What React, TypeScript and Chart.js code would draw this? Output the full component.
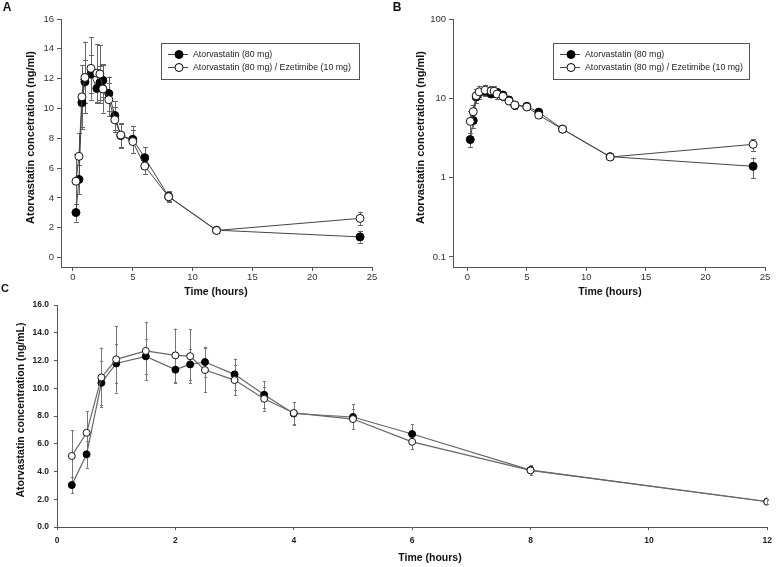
import React, { useEffect, useRef } from "react";
import { Chart, registerables } from "chart.js";
Chart.register(...registerables);

const FONT = '"Liberation Sans", Arial, Helvetica, sans-serif';

// ---- data ----
const TIMES = [0.25, 0.5, 0.75, 1, 1.5, 2, 2.25, 2.5, 3, 3.5, 4, 5, 6, 8, 12, 24];
const ATOR_MEAN = [3.02, 5.24, 10.39, 11.79, 12.3, 11.34, 11.72, 11.89, 11.0, 9.53, 8.18, 7.93, 6.7, 4.1, 1.84, 1.39];
const ATOR_SD = [0.6, 0.97, 1.6, 1.43, 1.28, 0.96, 1.14, 1.09, 1.14, 0.96, 0.8, 0.9, 0.72, 0.35, 0.18, 0.4];
const COMBO_MEAN = [5.12, 6.79, 10.78, 12.08, 12.69, 12.37, 12.31, 11.31, 10.59, 9.24, 8.22, 7.78, 6.14, 4.08, 1.82, 2.63];
const COMBO_SD = [1.84, 1.57, 2.15, 2.4, 2.1, 1.93, 1.93, 1.59, 1.11, 0.85, 0.8, 0.75, 0.53, 0.3, 0.15, 0.45];
const LEGEND_LABELS = ["Atorvastatin (80 mg)", "Atorvastatin (80 mg) / Ezetimibe (10 mg)"];

const A_X_TICKS = [0, 5, 10, 15, 20, 25];
const A_Y_TICKS = [0, 2, 4, 6, 8, 10, 12, 14, 16];
const B_X_TICKS = [0, 5, 10, 15, 20, 25];
const B_Y_TICKS = [0.1, 1, 10, 100];
const C_X_TICKS = [0, 2, 4, 6, 8, 10, 12];
const C_Y_TICKS = [0, 2, 4, 6, 8, 10, 12, 14, 16];

const TITLE_X = "Time (hours)";
const TITLE_Y_AB = "Atorvastatin concetration (ng/ml)";
const TITLE_Y_C = "Atorvastatin concentration (ng/mL)";

// ---- helpers ----
const points = (means: number[], maxT: number) =>
  TIMES.map((t, i) => ({ x: t, y: means[i] })).filter((p) => p.x <= maxT);
const errs = (sd: number[], maxT: number) => TIMES.map((t, i) => ({ t, e: sd[i] })).filter((p) => p.t <= maxT).map((p) => p.e);

function makeDatasets(maxT: number, lineColor: string, lineWidth: number, radius: number) {
  return [
    {
      label: LEGEND_LABELS[1],
      data: points(COMBO_MEAN, maxT),
      errors: errs(COMBO_SD, maxT),
      borderColor: lineColor,
      borderWidth: lineWidth,
      pointRadius: radius,
      pointBackgroundColor: "#ffffff",
      pointBorderColor: "#111111",
      pointBorderWidth: 1,
      tension: 0,
      fill: false,
    },
    {
      label: LEGEND_LABELS[0],
      data: points(ATOR_MEAN, maxT),
      errors: errs(ATOR_SD, maxT),
      borderColor: lineColor,
      borderWidth: lineWidth,
      pointRadius: radius,
      pointBackgroundColor: "#000000",
      pointBorderColor: "#000000",
      pointBorderWidth: 1,
      tension: 0,
      fill: false,
    },
  ];
}

function errorBarPlugin(color: string, cap: number) {
  return {
    id: "errorBars",
    beforeDatasetsDraw(chart: any) {
      const { ctx, chartArea } = chart;
      const xs = chart.scales.x;
      const ys = chart.scales.y;
      ctx.save();
      ctx.beginPath();
      ctx.rect(chartArea.left - 8, chartArea.top - 8, chartArea.width + 16, chartArea.height + 16);
      ctx.clip();
      ctx.strokeStyle = color;
      ctx.lineWidth = 1;
      chart.data.datasets.forEach((ds: any) => {
        const e = ds.errors as number[];
        if (!e) return;
        ds.data.forEach((pt: any, i: number) => {
          const px = Math.round(xs.getPixelForValue(pt.x)) + 0.5;
          const hi = ys.getPixelForValue(pt.y + e[i]);
          const lo = ys.getPixelForValue(Math.max(pt.y - e[i], 1e-6));
          ctx.beginPath();
          ctx.moveTo(px, hi);
          ctx.lineTo(px, lo);
          ctx.moveTo(px - cap, Math.round(hi) + 0.5);
          ctx.lineTo(px + cap, Math.round(hi) + 0.5);
          ctx.moveTo(px - cap, Math.round(lo) + 0.5);
          ctx.lineTo(px + cap, Math.round(lo) + 0.5);
          ctx.stroke();
        });
      });
      ctx.restore();
    },
  };
}

function legendPlugin(box: { x: number; y: number; w: number; h: number }) {
  return {
    id: "boxLegend",
    afterDraw(chart: any) {
      const { ctx } = chart;
      ctx.save();
      ctx.strokeStyle = "#555";
      ctx.lineWidth = 1;
      ctx.strokeRect(box.x + 0.5, box.y + 0.5, box.w, box.h);
      const rows = [
        { label: LEGEND_LABELS[0], fill: "#000", y: box.y + 11 },
        { label: LEGEND_LABELS[1], fill: "#fff", y: box.y + 24 },
      ];
      rows.forEach((r) => {
        ctx.strokeStyle = "#444";
        ctx.beginPath();
        ctx.moveTo(box.x + 7, r.y + 0.5);
        ctx.lineTo(box.x + 27, r.y + 0.5);
        ctx.stroke();
        ctx.beginPath();
        ctx.arc(box.x + 18, r.y + 0.5, 4, 0, Math.PI * 2);
        ctx.fillStyle = r.fill;
        ctx.fill();
        ctx.strokeStyle = "#000";
        ctx.stroke();
        ctx.fillStyle = "#222";
        ctx.font = `8.8px ${FONT}`;
        ctx.textAlign = "left";
        ctx.textBaseline = "middle";
        ctx.fillText(r.label, box.x + 32, r.y + 0.5);
      });
      ctx.restore();
    },
  };
}

type TextItem = { text: string; x: number; y: number; rot?: number; font: string; color?: string };
function textPlugin(items: TextItem[]) {
  return {
    id: "panelTexts",
    afterDraw(chart: any) {
      const { ctx } = chart;
      items.forEach((it) => {
        ctx.save();
        ctx.translate(it.x, it.y);
        if (it.rot) ctx.rotate(it.rot);
        ctx.font = it.font;
        ctx.fillStyle = it.color || "#111";
        ctx.textAlign = "center";
        ctx.textBaseline = "middle";
        ctx.fillText(it.text, 0, 0);
        ctx.restore();
      });
    },
  };
}

function axis(opts: {
  type: string;
  min: number;
  max: number;
  ticks: number[];
  fit: (s: any) => void;
  fontSize: number;
  bold?: boolean;
  color: string;
  padding: number;
  tickLength: number;
  fmt: (v: number) => string;
}) {
  return {
    type: opts.type,
    min: opts.min,
    max: opts.max,
    afterBuildTicks: (s: any) => {
      s.ticks = opts.ticks.map((v) => ({ value: v }));
    },
    afterFit: opts.fit,
    grid: { drawOnChartArea: false, drawTicks: true, tickLength: opts.tickLength, color: "#555", lineWidth: 1 },
    border: { display: true, color: "#555", width: 1 },
    ticks: {
      autoSkip: false,
      maxRotation: 0,
      padding: opts.padding,
      color: opts.color,
      font: { family: FONT, size: opts.fontSize, weight: opts.bold ? "bold" : "normal" },
      callback: (v: any) => opts.fmt(Number(v)),
    },
  };
}

function baseOptions(padding: any, scales: any) {
  return {
    responsive: false,
    maintainAspectRatio: false,
    animation: false,
    layout: { padding },
    plugins: { legend: { display: false }, tooltip: { enabled: false }, title: { display: false } },
    scales,
  };
}

const configA = () => ({
  type: "line",
  data: { datasets: makeDatasets(24, "#444", 1, 4) },
  options: baseOptions(
    { left: 0, right: 18, top: 19, bottom: 0 },
    {
      x: axis({ type: "linear", min: -1, max: 25, ticks: A_X_TICKS, fit: (s) => (s.height = 33), fontSize: 9.5, color: "#333", padding: 1, tickLength: 4, fmt: (v) => String(v) }),
      y: axis({ type: "linear", min: -0.63, max: 16, ticks: A_Y_TICKS, fit: (s) => (s.width = 61), fontSize: 9.5, color: "#333", padding: 3, tickLength: 4, fmt: (v) => String(v) }),
    }
  ),
  plugins: [
    errorBarPlugin("#666", 2.5),
    legendPlugin({ x: 161, y: 43, w: 198, h: 36 }),
    textPlugin([
      { text: "A", x: 7, y: 8, font: `bold 12px ${FONT}` },
      { text: TITLE_Y_AB, x: 31, y: 137.5, rot: -Math.PI / 2, font: `bold 11px ${FONT}` },
      { text: TITLE_X, x: 216, y: 292, font: `bold 10.5px ${FONT}` },
    ]),
  ],
});

const configB = () => ({
  type: "line",
  data: { datasets: makeDatasets(24, "#444", 1, 4) },
  options: baseOptions(
    { left: 0, right: 13, top: 19, bottom: 0 },
    {
      x: axis({ type: "linear", min: -1.2, max: 25, ticks: B_X_TICKS, fit: (s) => (s.height = 33), fontSize: 9.5, color: "#333", padding: 1, tickLength: 4, fmt: (v) => String(v) }),
      y: axis({ type: "logarithmic", min: 0.0748, max: 100, ticks: B_Y_TICKS, fit: (s) => (s.width = 63), fontSize: 9.5, color: "#333", padding: 3, tickLength: 4, fmt: (v) => String(v) }),
    }
  ),
  plugins: [
    errorBarPlugin("#666", 2.5),
    legendPlugin({ x: 163, y: 43, w: 196, h: 36 }),
    textPlugin([
      { text: "B", x: 7, y: 8, font: `bold 12px ${FONT}` },
      { text: TITLE_Y_AB, x: 31, y: 137.5, rot: -Math.PI / 2, font: `bold 11px ${FONT}` },
      { text: TITLE_X, x: 220, y: 292, font: `bold 10.5px ${FONT}` },
    ]),
  ],
});

const configC = () => ({
  type: "line",
  data: { datasets: makeDatasets(12, "#666", 1.2, 3.5) },
  options: baseOptions(
    { left: 0, right: 7, top: 25, bottom: 0 },
    {
      x: axis({ type: "linear", min: 0, max: 12, ticks: C_X_TICKS, fit: (s) => (s.height = 40), fontSize: 8.5, bold: true, color: "#222", padding: 6, tickLength: 3, fmt: (v) => String(v) }),
      y: axis({ type: "linear", min: 0, max: 16, ticks: C_Y_TICKS, fit: (s) => (s.width = 57), fontSize: 8.5, bold: true, color: "#222", padding: 5, tickLength: 3, fmt: (v) => v.toFixed(1) }),
    }
  ),
  plugins: [
    errorBarPlugin("#777", 1.6),
    textPlugin([
      { text: "C", x: 5, y: 9, font: `bold 11px ${FONT}` },
      { text: TITLE_Y_C, x: 21, y: 130, rot: -Math.PI / 2, font: `bold 10.5px ${FONT}` },
      { text: TITLE_X, x: 430, y: 278, font: `bold 10.5px ${FONT}` },
    ]),
  ],
});

function ChartCanvas(props: { left: number; top: number; width: number; height: number; build: () => any }) {
  const ref = useRef<HTMLCanvasElement>(null);
  useEffect(() => {
    const chart = new Chart(ref.current as HTMLCanvasElement, props.build());
    return () => chart.destroy();
  }, []);
  return (
    <canvas
      ref={ref}
      width={props.width}
      height={props.height}
      style={{ position: "absolute", left: props.left, top: props.top, width: props.width, height: props.height }}
    />
  );
}

export default function App() {
  return (
    <div style={{ position: "absolute", left: 0, top: 0, width: 778, height: 567, background: "#fff", overflow: "hidden" }}>
      <ChartCanvas left={0} top={0} width={390} height={300} build={configA} />
      <ChartCanvas left={390} top={0} width={388} height={300} build={configB} />
      <ChartCanvas left={0} top={280} width={778} height={287} build={configC} />
    </div>
  );
}
